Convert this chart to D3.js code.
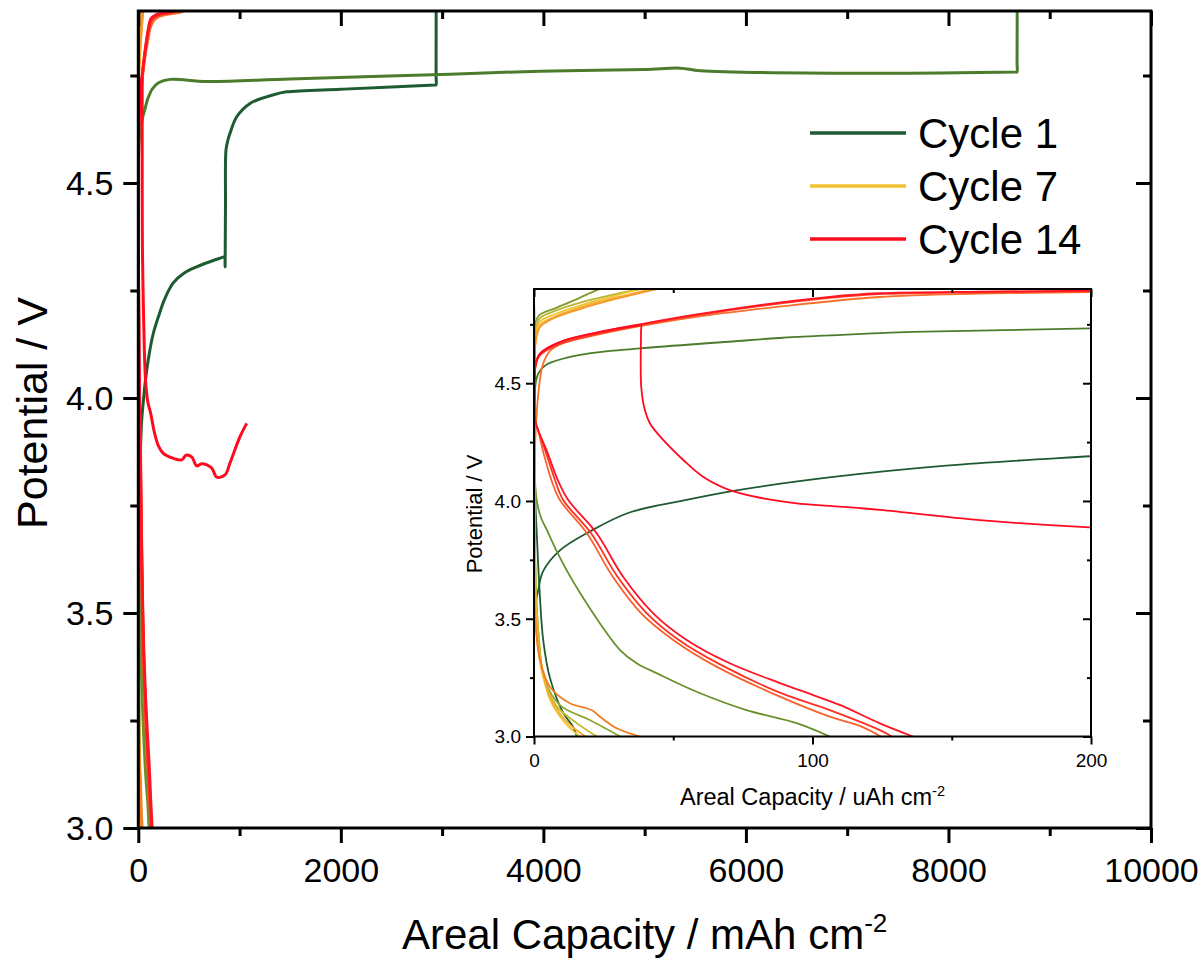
<!DOCTYPE html>
<html>
<head>
<meta charset="utf-8">
<script src="https://cdn.jsdelivr.net/npm/d3@7"></script>
<style>
  body { margin: 0; background: #fff; }
  text { font-family: "Liberation Sans", Arial, sans-serif; fill: #000; }
</style>
</head>
<body>
<svg id="chart" width="1200" height="959"></svg>
<script>
// capacity (same units in main plot and inset), potential in V
var cycle1Charge = [[0, 3.50], [0.8, 3.58], [1.5, 3.62], [3.2, 3.70], [9.3, 3.79], [20, 3.87], [34, 3.95], [53, 4.00], [70, 4.04], [106, 4.10], [148, 4.15], [200, 4.19], [260, 4.23], [343, 4.267], [450, 4.29], [577, 4.305], [720, 4.318], [846, 4.328], [856, 4.329], [856.5, 4.318], [857, 4.305], [858, 4.33], [861, 4.45], [866, 4.577], [885, 4.60], [906, 4.616], [972, 4.654], [1103, 4.685], [1333, 4.705], [1465, 4.712], [2000, 4.718], [2500, 4.723], [2930, 4.728], [2940, 4.728], [2940.3, 4.75], [2942, 5.0]];
var cycle1Discharge = [[0, 5.0], [0.2, 4.4], [0.5, 4.0], [1, 3.86], [2, 3.62], [3.3, 3.41], [5.7, 3.25], [10.5, 3.10], [14.1, 3.04], [15.4, 3.0]];
var cycle2Charge = [[0, 4.40], [0.6, 4.50], [1.5, 4.54], [4.4, 4.578], [16.5, 4.62], [38, 4.648], [70, 4.676], [88, 4.692], [106, 4.703], [136, 4.718], [200, 4.733], [313, 4.741], [676, 4.736], [1500, 4.742], [3078, 4.753], [3967, 4.760], [5000, 4.764], [5350, 4.767], [5550, 4.761], [7127, 4.755], [8667, 4.758], [8677, 4.758], [8677.3, 4.78], [8680, 5.0]];
var cycle2Discharge = [[0, 5.0], [0.15, 4.5], [0.36, 4.09], [1, 4.0], [2.5, 3.93], [4.6, 3.877], [8, 3.79], [12, 3.70], [16.5, 3.61], [23.7, 3.48], [30.9, 3.367], [37, 3.31], [44, 3.269], [58.4, 3.19], [76.3, 3.112], [94.3, 3.057], [106.2, 3.0]];
var cycle3Charge = [[0, 4.70], [0.4, 4.754], [2, 4.79], [8, 4.82], [15, 4.855], [22.5, 4.895], [30, 4.93], [40, 4.97]];
var cycle3Discharge = [[0, 5.0], [0.1, 4.5], [0.2, 4.1], [0.4, 3.75], [1.5, 3.45], [3.9, 3.24], [9.3, 3.133], [20, 3.07], [31, 3.0]];
var cycle4Charge = [[0, 4.66], [0.5, 4.72], [2, 4.775], [6, 4.80], [16, 4.84], [30, 4.88], [42, 4.91], [55, 4.95]];
var cycle4Discharge = [[0, 5.0], [0.1, 4.4], [0.3, 3.9], [0.8, 3.6], [2, 3.38], [3.5, 3.25], [8, 3.13], [15, 3.06], [22.5, 3.0]];
var cycle7Charge = [[0, 4.62], [0.5, 4.70], [2, 4.76], [5.7, 4.785], [16.5, 4.83], [28.5, 4.87], [40, 4.905], [55, 4.95]];
var cycle7Discharge = [[0, 5.0], [0.1, 4.3], [0.3, 3.7], [1, 3.45], [2.5, 3.3], [6, 3.15], [11, 3.06], [16.4, 3.0]];
var cycle9Charge = [[0, 4.58], [0.5, 4.68], [2, 4.745], [6, 4.775], [16.5, 4.822], [30, 4.865], [44, 4.905], [58, 4.95]];
var cycle9Discharge = [[0, 5.0], [0.1, 4.3], [0.3, 3.65], [1, 3.42], [2.8, 3.28], [6.5, 3.15], [12, 3.06], [18.5, 3.0]];
var cycle8Charge = [[0, 4.55], [0.5, 4.66], [2, 4.735], [6, 4.77], [16.5, 4.815], [30, 4.86], [46, 4.905], [60, 4.95]];
var cycle8Discharge = [[0, 5.0], [0.1, 4.5], [0.2, 4.0], [0.4, 3.51], [2.2, 3.325], [5.7, 3.211], [12.9, 3.141], [18.9, 3.12], [21, 3.11], [23.7, 3.084], [29.7, 3.035], [38, 3.0]];
var cycle11Charge = [[0, 4.10], [0.5, 4.27], [1.5, 4.45], [3.2, 4.58], [6, 4.64], [10.5, 4.67], [22.5, 4.705], [38, 4.742], [60, 4.785], [88, 4.825], [124, 4.866], [160, 4.88], [200, 4.887], [300, 4.893], [450, 4.90], [600, 4.93]];
var cycle11Discharge = [[0, 5.0], [0.15, 4.6], [0.4, 4.344], [1.5, 4.30], [3.5, 4.20], [6.5, 4.08], [9.3, 4.004], [19, 3.863], [28.3, 3.678], [38.5, 3.523], [50, 3.41], [65, 3.30], [88.3, 3.169], [106.2, 3.084], [118, 3.04], [124.5, 3.0]];
var cycle12Charge = [[0, 4.30], [0.2, 4.45], [0.5, 4.565], [1.5, 4.607], [3.3, 4.63], [10.5, 4.672], [22.5, 4.708], [38, 4.746], [58.4, 4.788], [82.3, 4.829], [106.2, 4.862], [124, 4.878], [160, 4.886], [199.5, 4.891], [260, 4.894], [380, 4.90], [520, 4.93]];
var cycle12Discharge = [[0, 5.0], [0.15, 4.6], [0.4, 4.344], [1.5, 4.30], [4, 4.216], [7.5, 4.09], [10.5, 4.004], [20.5, 3.863], [30, 3.678], [40.5, 3.523], [52, 3.41], [67, 3.305], [88.3, 3.186], [106.2, 3.112], [124.2, 3.027], [128.5, 3.0]];
var cycle13Charge = [[0, 4.30], [0.2, 4.46], [0.5, 4.575], [1.5, 4.615], [3.3, 4.638], [10.5, 4.68], [22.5, 4.715], [38, 4.75], [58.4, 4.792], [82.3, 4.834], [106.2, 4.867], [124, 4.882], [160, 4.889], [199.5, 4.893], [247, 4.895], [346, 4.90], [500, 4.93]];
var cycle13Discharge = [[0, 5.0], [0.15, 4.6], [0.4, 4.344], [1.5, 4.30], [4.5, 4.216], [8.5, 4.09], [12.3, 4.004], [22.5, 3.863], [32, 3.678], [42.8, 3.523], [54.8, 3.41], [70.3, 3.311], [88.3, 3.227], [100.2, 3.176], [109.8, 3.134], [124.2, 3.056], [136.1, 3.0]];
var cycle14Charge = [[0, 4.30], [0.2, 4.46], [0.5, 4.575], [1.5, 4.615], [3.3, 4.638], [10.5, 4.68], [22.5, 4.715], [36.5, 4.743], [38.4, 4.745], [38.42, 4.72], [38.5, 4.485], [39.8, 4.386], [41.6, 4.33], [46.4, 4.259], [53.6, 4.174], [60.7, 4.103], [70.3, 4.046], [82.3, 4.011], [94.3, 3.99], [106.2, 3.979], [124.2, 3.962], [160, 3.919], [199.5, 3.888], [244, 3.872], [343, 3.860], [429, 3.856], [471, 3.867], [527, 3.863], [577, 3.842], [626, 3.847], [725, 3.837], [774, 3.816], [856, 3.821], [906, 3.849], [1004, 3.910], [1071, 3.941]];

var mainXTicks = [0, 2000, 4000, 6000, 8000, 10000];
var mainXMinor = [1000, 3000, 5000, 7000, 9000];
var yTicks = [3.0, 3.5, 4.0, 4.5];
var yMinor = [3.25, 3.75, 4.25, 4.75];
var insetXTicks = [0, 100, 200];
var insetXMinor = [50, 150];
var legendNames = ["Cycle 1", "Cycle 7", "Cycle 14"];

var curves = [
  {d: cycle1Charge, c: "#1e5a32"}, {d: cycle1Discharge, c: "#1e5a32"},
  {d: cycle2Charge, c: "#4b7c2c"}, {d: cycle2Discharge, c: "#6a902b"},
  {d: cycle3Charge, c: "#7f9c2e"}, {d: cycle3Discharge, c: "#8ea62f"},
  {d: cycle4Charge, c: "#b9b530"}, {d: cycle4Discharge, c: "#c2b82e"},
  {d: cycle7Charge, c: "#f0c232"}, {d: cycle7Discharge, c: "#f0c232"},
  {d: cycle9Charge, c: "#f4ae2a"}, {d: cycle9Discharge, c: "#f4ae2a"},
  {d: cycle8Charge, c: "#f5992a"}, {d: cycle8Discharge, c: "#f47c22"},
  {d: cycle11Charge, c: "#f7702a"}, {d: cycle11Discharge, c: "#f8622a"},
  {d: cycle12Charge, c: "#ff3a26"}, {d: cycle12Discharge, c: "#ff3024"},
  {d: cycle13Charge, c: "#ff1424"}, {d: cycle13Discharge, c: "#ff1424"},
  {d: cycle14Charge, c: "#ff0a1e"}
];
var legendColors = ["#1e5b32", "#f0c232", "#ff0a1e"];

var svg = d3.select("#chart");
var fmt1 = d3.format(".1f");

function ticks(g, axis, vals, size, w, labels, fs) {
  var a = g.call(axis.tickValues(vals).tickSize(size).tickFormat(labels ? labels : ""));
  a.select(".domain").remove();
  a.selectAll(".tick line").attr("stroke", "#000").attr("stroke-width", w);
  a.selectAll("text").attr("font-size", fs).attr("fill", "#000")
    .style("font-family", '"Liberation Sans", Arial, sans-serif');
  return a;
}

function panel(x, y, o) {
  var x0 = x.range()[0], x1 = x.range()[1], yb = y.range()[0], yt = y.range()[1];
  var root = svg.append("g");
  root.append("rect").attr("x", x0).attr("y", yt).attr("width", x1 - x0).attr("height", yb - yt).attr("fill", "#fff");
  var cid = "clip" + o.id;
  root.append("clipPath").attr("id", cid).append("rect")
    .attr("x", x0).attr("y", yt).attr("width", x1 - x0).attr("height", yb - yt + 2);

  var line = d3.line().curve(d3.curveCatmullRom.alpha(0.5))
    .x(function(p) { return x(p[0]); }).y(function(p) { return y(p[1]); });
  root.append("g").attr("clip-path", "url(#" + cid + ")")
    .selectAll("path").data(curves).enter().append("path")
    .attr("d", function(s) { return line(s.d); })
    .attr("fill", "none").attr("stroke", function(s) { return s.c; })
    .attr("stroke-width", o.lw).attr("stroke-linejoin", "round");

  // axes
  var b = ticks(root.append("g").attr("transform", "translate(0," + yb + ")"), d3.axisBottom(x), o.xt, o.maj, o.tw, d3.format("d"), o.fs);
  b.selectAll("text").attr("y", o.xly).attr("dy", 0);
  ticks(root.append("g").attr("transform", "translate(0," + yb + ")"), d3.axisBottom(x), o.xm, o.min, o.tw, null, o.fs);
  ticks(root.append("g").attr("transform", "translate(0," + yt + ")"), d3.axisTop(x), o.xt, -o.maj, o.tw, null, o.fs);
  ticks(root.append("g").attr("transform", "translate(0," + yt + ")"), d3.axisTop(x), o.xm, -o.min, o.tw, null, o.fs);
  var l = ticks(root.append("g").attr("transform", "translate(" + x0 + ",0)"), d3.axisLeft(y), yTicks, o.maj, o.tw, fmt1, o.fs);
  l.selectAll("text").attr("x", -o.ylx).attr("dy", "0.33em");
  ticks(root.append("g").attr("transform", "translate(" + x0 + ",0)"), d3.axisLeft(y), yMinor, o.min, o.tw, null, o.fs);
  ticks(root.append("g").attr("transform", "translate(" + x1 + ",0)"), d3.axisRight(y), yTicks, -o.maj, o.tw, null, o.fs);
  ticks(root.append("g").attr("transform", "translate(" + x1 + ",0)"), d3.axisRight(y), yMinor, -o.min, o.tw, null, o.fs);

  root.append("rect").attr("x", x0).attr("y", yt).attr("width", x1 - x0).attr("height", yb - yt)
    .attr("fill", "none").attr("stroke", "#000").attr("stroke-width", o.tw);

  // titles
  var xt = root.append("text").attr("x", (x0 + x1) / 2).attr("y", o.xtitleY)
    .attr("text-anchor", "middle").attr("font-size", o.tfs).text(o.xtitle);
  xt.append("tspan").attr("dy", -o.tfs * 0.4).attr("font-size", o.tfs * 0.62).text("-2");
  root.append("text").attr("transform", "translate(" + o.ytitleX + "," + o.ytitleC + ") rotate(-90)")
    .attr("text-anchor", "middle").attr("font-size", o.ytfs).text("Potential / V");
}

var xMain = d3.scaleLinear().domain([0, 10000]).range([138.3, 1151]);
var yMain = d3.scaleLinear().domain([3.0, 4.9]).range([828, 11]);
panel(xMain, yMain, {id: "main", lw: 3, tw: 3, maj: 15, min: 8, fs: 34, xt: mainXTicks, xm: mainXMinor,
  xly: 54, ylx: 25, tfs: 42, ytfs: 43, xtitle: "Areal Capacity / mAh cm", xtitleY: 948.5, ytitleX: 47, ytitleC: 413});

var xIn = d3.scaleLinear().domain([0, 200]).range([534, 1091]);
var yIn = d3.scaleLinear().domain([3.0, 4.9]).range([736.5, 289]);
panel(xIn, yIn, {id: "inset", lw: 1.8, tw: 2, maj: 8, min: 4, fs: 19, xt: insetXTicks, xm: insetXMinor,
  xly: 30.5, ylx: 13, tfs: 23.5, ytfs: 22, xtitle: "Areal Capacity / uAh cm", xtitleY: 805, ytitleX: 482, ytitleC: 514});

// legend
var lg = svg.append("g").selectAll("g").data(legendNames).enter().append("g")
  .attr("transform", function(d, i) { return "translate(0," + (133 + i * 53) + ")"; });
lg.append("line").attr("x1", 810).attr("x2", 906).attr("stroke-width", 3.5)
  .attr("stroke", function(d, i) { return legendColors[i]; });
lg.append("text").attr("x", 918).attr("dy", "0.36em").attr("font-size", 42).text(function(d) { return d; });
</script>
</body>
</html>
